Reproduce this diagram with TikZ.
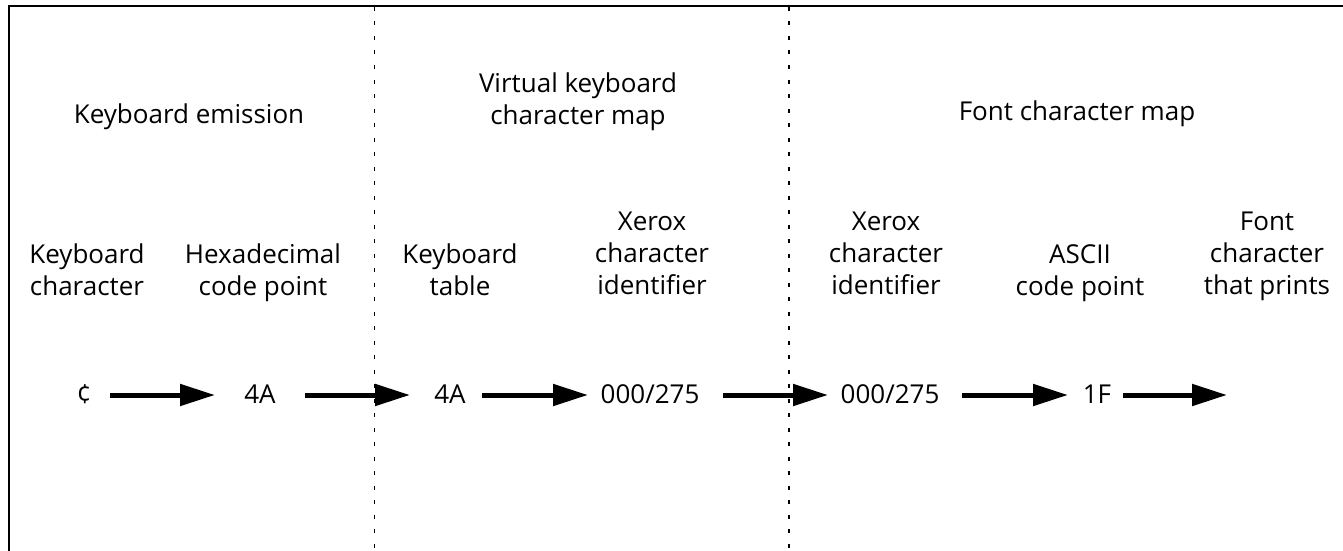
\documentclass[tikz,border=0pt]{standalone}
\usepackage{fontspec}
\setmainfont{Open Sans}
\usetikzlibrary{arrows.meta}
\begin{document}
\begin{tikzpicture}[x=1pt,y=-1pt,
  lbl/.style={font=\fontsize{26}{32}\selectfont, align=center, inner sep=0pt, anchor=north},
  head/.style={font=\fontsize{26}{32}\selectfont, align=center, inner sep=0pt, anchor=base},
  val/.style={font=\fontsize{26}{32}\selectfont, inner sep=0pt, anchor=base},
  arr/.style={line width=5pt, -{Triangle[length=35pt,width=21pt]}},
  sepline/.style={line width=1.6pt, dash pattern=on 4pt off 10.5pt},
  frameline/.style={line width=2pt}]
\fill[white] (0,0) rectangle (1343,551);
\useasboundingbox (0,0) rectangle (1343,551);
% frame (left and top)
\draw[frameline] (9,551) -- (9,6) -- (1343,6);
% separators
\draw[sepline] (374.5,7) -- (374.5,551);
\draw[sepline] (789,7) -- (789,551);
% headings
\node[head] (h-emit) at (189,123) {Keyboard emission};
\node[lbl] (h-virt) at (578,73) {Virtual keyboard\\character map};
\node[head] (h-font) at (1077,120) {Font character map};
% column labels
\node[lbl] (l-kc) at (87,244) {Keyboard\\character};
\node[lbl] (l-hex) at (263,244) {Hexadecimal\\code point};
\node[lbl] (l-kt) at (460,244) {Keyboard\\table};
\node[lbl] (l-x1) at (652,212) {Xerox\\character\\identifier};
\node[lbl] (l-x2) at (886,212) {Xerox\\character\\identifier};
\node[lbl] (l-asc) at (1080,244) {ASCII\\code point};
\node[lbl] (l-fc) at (1267,212) {Font\\character\\that prints};
% values
\node[val] (c0) at (84,403) {¢};
\node[val] (h1) at (260,403) {4A};
\node[val] (k1) at (450,403) {4A};
\node[val] (x1) at (650,403) {000/275};
\node[val] (x2) at (890,403) {000/275};
\node[val] (a1) at (1097,403) {1F};
\coordinate (out) at (1227,395);
% arrows
\draw[arr] ([shift={(26,-8)}]c0.base) -- ([shift={(-45,-8)}]h1.base);
\draw[arr] ([shift={(45,-8)}]h1.base) -- ([shift={(-40,-8)}]k1.base);
\draw[arr] ([shift={(32,-8)}]k1.base) -- ([shift={(-62,-8)}]x1.base);
\draw[arr] ([shift={(73,-8)}]x1.base) -- ([shift={(-62,-8)}]x2.base);
\draw[arr] ([shift={(72,-8)}]x2.base) -- ([shift={(-29,-8)}]a1.base);
\draw[arr] ([shift={(26,-8)}]a1.base) -- (out);
\end{tikzpicture}
\end{document}
